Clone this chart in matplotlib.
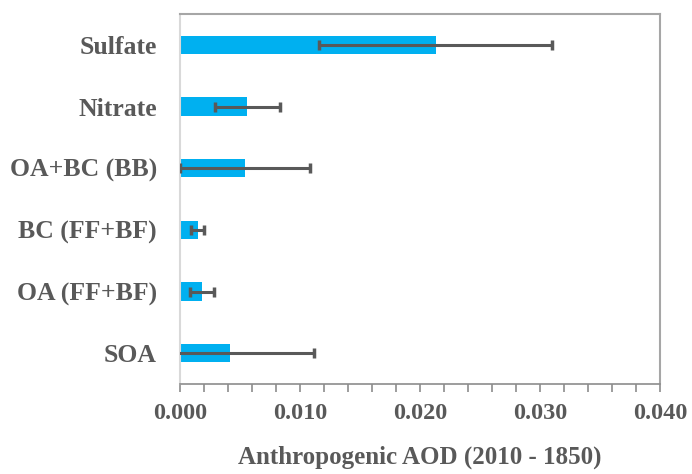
import matplotlib
matplotlib.use("Agg")
import matplotlib.pyplot as plt
from matplotlib.ticker import MultipleLocator, FormatStrFormatter

categories = ["Sulfate", "Nitrate", "OA+BC (BB)", "BC (FF+BF)", "OA (FF+BF)", "SOA"]
values = [0.0213, 0.0056, 0.0054, 0.00147, 0.00186, 0.00417]
errors = [0.0097, 0.0027, 0.0054, 0.00054, 0.0010, 0.0070]

plt.rcParams['font.family'] = ['Liberation Serif', 'DejaVu Serif']
plt.rcParams['font.weight'] = 'bold'
text_color = '#595959'

fig = plt.figure(figsize=(6.92, 4.74), dpi=100)
ax = fig.add_axes([180/692, 1 - 384/474, (660-180)/692, (384-14)/474])

y = list(range(len(categories)))
ax.barh(y, values, height=0.3, color='#00B0F0', zorder=2)
ax.errorbar(values, y, xerr=errors, fmt='none', ecolor='#595959',
            elinewidth=2.2, capsize=3.5, capthick=2.5, zorder=3)

ax.set_ylim(5.5, -0.5)
ax.set_xlim(0, 0.04)
ax.set_yticks(y)
ax.set_yticklabels(categories, fontsize=18.5, fontweight='bold', color=text_color)
ax.tick_params(axis='y', length=0, pad=16.5)

ax.xaxis.set_major_locator(MultipleLocator(0.01))
ax.xaxis.set_minor_locator(MultipleLocator(0.002))
ax.xaxis.set_major_formatter(FormatStrFormatter('%.3f'))
ax.tick_params(axis='x', which='both', direction='out', length=6, width=1.2,
               color='#8c8c8c', labelsize=17.5, labelcolor=text_color, pad=8)
for lab in ax.get_xticklabels():
    lab.set_fontweight('bold')

ax.set_xlabel('Anthropogenic AOD (2010 - 1850)', fontsize=18, fontweight='bold',
              color=text_color, labelpad=15)

ax.spines['left'].set_color('#d9d9d9')
ax.spines['left'].set_linewidth(1.5)
ax.spines['bottom'].set_color('#8c8c8c')
ax.spines['bottom'].set_linewidth(1.2)
ax.spines['top'].set_color('#a6a6a6')
ax.spines['top'].set_linewidth(1.5)
ax.spines['right'].set_color('#a6a6a6')
ax.spines['right'].set_linewidth(1.5)

fig.savefig('out.png', dpi=100)
